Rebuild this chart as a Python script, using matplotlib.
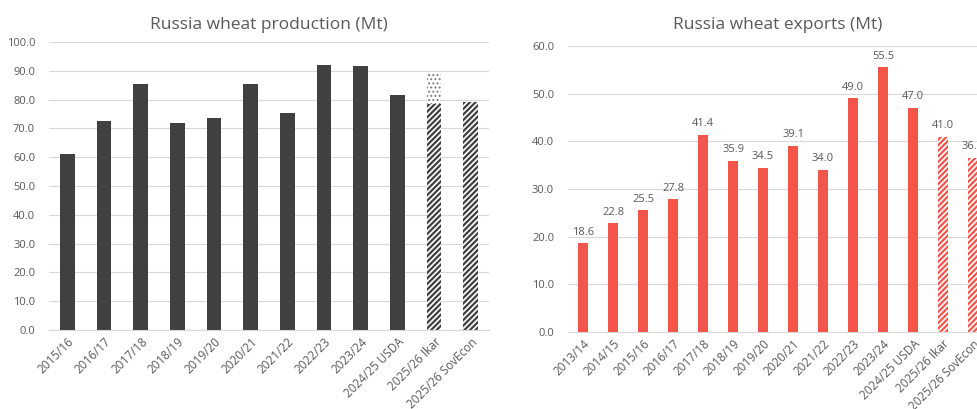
import matplotlib.pyplot as plt
import numpy as np

plt.rcParams['font.family'] = ['Open Sans', 'DejaVu Sans']
plt.rcParams['hatch.linewidth'] = 1.6

# Production data (Mt)
prod_labels = ['2015/16', '2016/17', '2017/18', '2018/19', '2019/20', '2020/21',
               '2021/22', '2022/23', '2023/24', '2024/25 USDA', '2025/26 Ikar',
               '2025/26 SovEcon']
prod_values = [61.0, 72.5, 85.3, 71.7, 73.5, 85.4, 75.2, 92.0, 91.5, 81.5, 78.5, 79.0]
prod_ikar_upper = 89.5  # range upper end for Ikar forecast

# Exports data (Mt)
exp_labels = ['2013/14', '2014/15', '2015/16', '2016/17', '2017/18', '2018/19',
              '2019/20', '2020/21', '2021/22', '2022/23', '2023/24',
              '2024/25 USDA', '2025/26 Ikar', '2025/26 SovEcon']
exp_values = [18.6, 22.8, 25.5, 27.8, 41.4, 35.9, 34.5, 39.1, 34.0, 49.0, 55.5,
              47.0, 41.0, 36.5]

n_forecast = 2
text_col = '#595959'
grid_col = '#D9D9D9'
dark = '#404040'
red = '#F4554A'

fig = plt.figure(figsize=(9.77, 4.09), dpi=100)
ax1 = fig.add_axes([0.0502, 0.1932, 0.4504, 0.7042])
ax2 = fig.add_axes([0.5814, 0.1883, 0.4299, 0.6993])


def style(ax, ymax, step):
    ticks = np.arange(0, ymax + 0.01, step)
    ax.set_ylim(0, ymax)
    ax.set_yticks(ticks)
    ax.set_yticklabels([f'{v:.1f}' for v in ticks])
    for s in ['top', 'right', 'left']:
        ax.spines[s].set_visible(False)
    ax.spines['bottom'].set_color(grid_col)
    ax.grid(axis='y', color=grid_col, linewidth=0.8)
    ax.set_axisbelow(True)
    ax.tick_params(axis='both', length=0, colors=text_col, labelsize=8)
    ax.tick_params(axis='x', labelsize=8.5, pad=4)
    ax.tick_params(axis='y', pad=10)


# --- Production chart ---
x1 = np.arange(len(prod_labels))
nh = len(prod_labels) - n_forecast
ax1.bar(x1[:nh], prod_values[:nh], width=0.4, color=dark)
ax1.bar(x1[nh:], prod_values[nh:], width=0.4, color='white',
        edgecolor=dark, hatch='//////', linewidth=0)
# dotted part = upper end of the Ikar range
with plt.rc_context({'hatch.linewidth': 0.9}):
    ax1.bar(x1[nh], prod_ikar_upper - prod_values[nh], bottom=prod_values[nh],
            width=0.4, color='white', edgecolor='#7A7A7A', hatch='....', linewidth=0)
style(ax1, 100, 10)
ax1.set_xlim(-0.5, len(prod_labels) - 0.5)
ax1.set_xticks(x1)
ax1.set_xticklabels(prod_labels, rotation=45, ha='right', rotation_mode='anchor')
ax1.set_title('Russia wheat production (Mt)', color=text_col, fontsize=12.5, pad=9)

# --- Exports chart ---
x2 = np.arange(len(exp_labels))
nh = len(exp_labels) - n_forecast
ax2.bar(x2[:nh], exp_values[:nh], width=0.31, color=red)
ax2.bar(x2[nh:], exp_values[nh:], width=0.31, color='white',
        edgecolor=red, hatch='//////', linewidth=0)
for xi, v in zip(x2, exp_values):
    ax2.text(xi, v + 1.2, f'{v:.1f}', ha='center', va='bottom',
             color=text_col, fontsize=8)
style(ax2, 60, 10)
ax2.set_xlim(-0.5, len(exp_labels) - 0.5)
ax2.set_xticks(x2)
ax2.set_xticklabels(exp_labels, rotation=45, ha='right', rotation_mode='anchor')
ax2.set_title('Russia wheat exports (Mt)', color=text_col, fontsize=12.5, pad=12)

fig.savefig('out.png', dpi=100)
